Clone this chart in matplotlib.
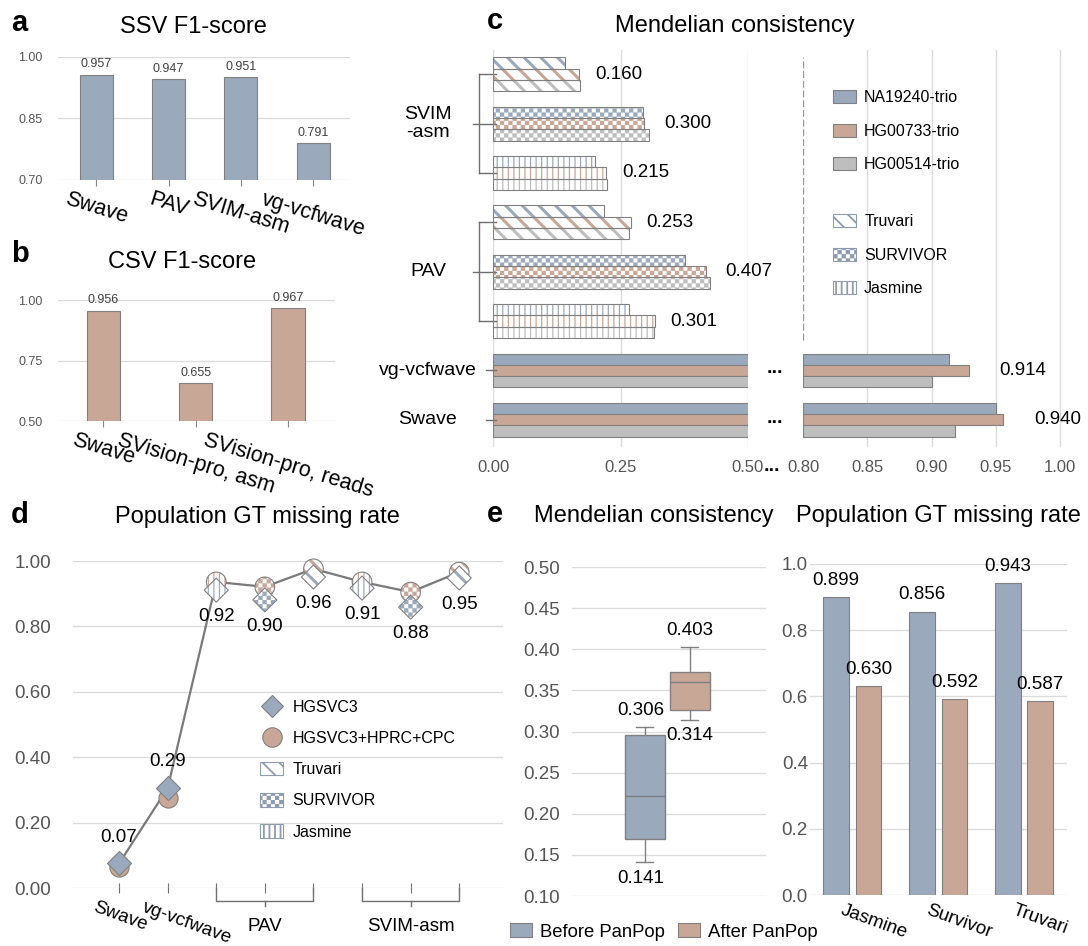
import warnings
import numpy as np
import matplotlib
matplotlib.use("Agg")
import matplotlib.pyplot as plt
import matplotlib.hatch as mhatch
import matplotlib.transforms as mtransforms
from matplotlib.path import Path
from matplotlib.patches import Patch
from matplotlib.lines import Line2D

warnings.filterwarnings("ignore")

plt.rcParams['font.family'] = ['Liberation Sans', 'DejaVu Sans']
plt.rcParams['hatch.linewidth'] = 1.3

# ---------------- data ----------------
ssv_tools = ['Swave', 'PAV', 'SVIM-asm', 'vg-vcfwave']
ssv_f1 = [0.957, 0.947, 0.951, 0.791]

csv_tools = ['Swave', 'SVision-pro, asm', 'SVision-pro, reads']
csv_f1 = [0.956, 0.655, 0.967]

trios = ['NA19240-trio', 'HG00733-trio', 'HG00514-trio']
mergers = ['Truvari', 'SURVIVOR', 'Jasmine']

# panel c rows, bottom to top
c_rows = ['Swave', 'vg-vcfwave', 'PAV', 'PAV', 'PAV', 'SVIM-asm', 'SVIM-asm', 'SVIM-asm']
c_merger = [None, None, 'Jasmine', 'SURVIVOR', 'Truvari', 'Jasmine', 'SURVIVOR', 'Truvari']
c_na19240 = [0.950, 0.914, 0.267, 0.376, 0.217, 0.200, 0.294, 0.141]
c_hg00733 = [0.956, 0.929, 0.318, 0.418, 0.271, 0.221, 0.296, 0.169]
c_hg00514 = [0.918, 0.900, 0.316, 0.426, 0.267, 0.224, 0.306, 0.170]
c_labels = ['0.940', '0.914', '0.301', '0.407', '0.253', '0.215', '0.300', '0.160']

d_methods = ['Swave', 'vg-vcfwave', 'PAV', 'PAV', 'PAV', 'SVIM-asm', 'SVIM-asm', 'SVIM-asm']
d_merger = [None, None, 'Jasmine', 'SURVIVOR', 'Truvari', 'Jasmine', 'SURVIVOR', 'Truvari']
d_hgsvc3 = [0.075, 0.305, 0.911, 0.881, 0.951, 0.917, 0.859, 0.948]
d_combined = [0.064, 0.275, 0.936, 0.921, 0.976, 0.936, 0.905, 0.966]
d_labels = ['0.07', '0.29', '0.92', '0.90', '0.96', '0.91', '0.88', '0.95']

panpop = ['Before PanPop', 'After PanPop']
# whislo, q1, med, q3, whishi
mc_before = [0.141, 0.169, 0.222, 0.296, 0.306]
mc_after = [0.314, 0.326, 0.360, 0.372, 0.403]

miss_tools = ['Jasmine', 'Survivor', 'Truvari']
miss_before = [0.899, 0.856, 0.943]
miss_after = [0.630, 0.592, 0.587]

# ---------------- style ----------------
BLUE = '#9ba9bd'
TAN = '#c9a797'
GREY = '#bebebe'
EDGE = '#808080'
GRID = '#dcdcdc'
TICK = '#555555'
HATCH_EDGE = '#8f9bb0'


class CheckerHatch(mhatch.HatchPatternBase):
    """Filled checkerboard squares, selected with the letter 'c'."""

    def __init__(self, hatch, density):
        n = hatch.count('c') * density
        self.n = n
        self.cells = [(i, j) for i in range(n) for j in range(n) if (i + j) % 2 == 0]
        self.num_vertices = len(self.cells) * 5

    def set_vertices_and_codes(self, vertices, codes):
        s = 1.0 / self.n
        sh = 0.2 * s
        verts = []
        for i, j in self.cells:
            x0, y0 = i * s + sh, j * s + sh
            x1, y1 = (i + 1) * s - sh, (j + 1) * s - sh
            verts += [(x0, y0), (x1, y0), (x1, y1), (x0, y1), (x0, y0)]
        vertices[:] = verts
        codes[:] = [Path.MOVETO, Path.LINETO, Path.LINETO, Path.LINETO,
                    Path.CLOSEPOLY] * len(self.cells)


mhatch._hatch_types.append(CheckerHatch)

hatch_of = {'Truvari': '\\\\', 'SURVIVOR': 'cccc', 'Jasmine': '|||'}
hatch_lw = {'Truvari': 2.2, 'SURVIVOR': 1.3, 'Jasmine': 0.9}


def set_hlw(artist, m):
    if hasattr(artist, 'set_hatch_linewidth'):
        artist.set_hatch_linewidth(hatch_lw[m])


W, H = 1088, 946
fig = plt.figure(figsize=(W / 100, H / 100), dpi=100)


def add_ax(left, top, right, bottom):
    return fig.add_axes([left / W, 1 - bottom / H, (right - left) / W, (bottom - top) / H])


def fig_text(x, y, s, **kw):
    fig.text(x / W, 1 - y / H, s, **kw)


def clean(ax):
    for sp in ax.spines.values():
        sp.set_visible(False)


# ---------------- panel a / b ----------------
def f1_panel(box, names, vals, color, ylim, yticks, width):
    ax = add_ax(*box)
    x = np.arange(len(names))
    ax.bar(x, vals, width=width, color=color, edgecolor=EDGE, linewidth=0.8, zorder=2)
    for xi, v in zip(x, vals):
        ax.annotate(f'{v:.3f}', (xi, v), xytext=(0, 3), textcoords='offset points',
                    ha='center', va='bottom', fontsize=9, color='#404040')
    ax.set_ylim(*ylim)
    ax.set_yticks(yticks)
    ax.set_yticklabels([f'{t:.2f}' for t in yticks])
    ax.set_xticks(x)
    ax.set_xticklabels(names, rotation=-17, ha='center', fontsize=15.5)
    ax.tick_params(axis='y', length=0, pad=11, labelsize=9, labelcolor=TICK)
    ax.tick_params(axis='x', direction='inout', length=9, color='#888888', pad=2)
    ax.grid(axis='y', color=GRID, lw=1, zorder=0)
    ax.set_axisbelow(True)
    clean(ax)
    return ax


axa = f1_panel((58, 57, 350, 180), ssv_tools, ssv_f1, BLUE, (0.70, 1.00), [0.70, 0.85, 1.00], 0.46)
axa.set_xlim(-0.53, 3.51)
axb = f1_panel((58, 300, 335, 421), csv_tools, csv_f1, TAN, (0.50, 1.00), [0.50, 0.75, 1.00], 0.36)
axb.set_xlim(-0.49, 2.51)

# ---------------- panel c ----------------
axl = add_ax(493, 50, 748, 447)
axr = add_ax(803, 50, 1078, 447)
rows = np.arange(len(c_rows))
bh = 0.229
trio_vals = [c_na19240, c_hg00733, c_hg00514]
trio_cols = [BLUE, TAN, GREY]

for k, (vals, col) in enumerate(zip(trio_vals, trio_cols)):
    ys = rows + (1 - k) * bh
    for yi, v, m in zip(ys, vals, c_merger):
        if m is None:
            axl.barh(yi, v, height=bh, color=col, edgecolor=EDGE, linewidth=0.8, zorder=2)
            axr.barh(yi, v - 0.8, left=0.8, height=bh, color=col, edgecolor=EDGE,
                     linewidth=0.8, zorder=2)
        else:
            bars = axl.barh(yi, v, height=bh, color='white', edgecolor=col, hatch=hatch_of[m],
                            linewidth=0, zorder=2)
            for p in bars:
                set_hlw(p, m)
            axl.barh(yi, v, height=bh, fill=False, edgecolor=EDGE, linewidth=0.8, zorder=3)

for i, (lab, m) in enumerate(zip(c_labels, c_merger)):
    vmax = max(c_na19240[i], c_hg00733[i], c_hg00514[i])
    ax = axl if vmax < 0.5 else axr
    ax.annotate(lab, (vmax, i), xytext=(11 if m else 22, 0), textcoords='offset points',
                ha='left', va='center', fontsize=13.5)

for ax, lim, ticks in [(axl, (0, 0.5), [0, 0.25, 0.5]),
                       (axr, (0.8, 1.014), [0.80, 0.85, 0.90, 0.95, 1.00])]:
    ax.set_xlim(*lim)
    ax.set_ylim(-0.55, 7.49)
    ax.set_xticks(ticks)
    ax.set_xticklabels([f'{t:.2f}' for t in ticks])
    ax.set_yticks([])
    ax.tick_params(axis='x', length=0, pad=9, labelsize=12, labelcolor=TICK)
    clean(ax)

axl.grid(axis='x', color=GRID, lw=1, zorder=0)
axl.set_axisbelow(True)
for t in [0.85, 0.90, 0.95, 1.00]:
    axr.axvline(t, color=GRID, lw=1, zorder=0)
axr.axvline(0.8, ymin=0.27, ymax=0.982, color='#999999', lw=1, ls=(0, (5, 2)), zorder=1)

# y labels with brackets
bt = mtransforms.blended_transform_factory(axl.transAxes, axl.transData)
line_kw = dict(color='#707070', lw=1, transform=bt, clip_on=False)
groups = {}
for i, name in enumerate(c_rows):
    groups.setdefault(name, []).append(i)
for name, idx in groups.items():
    mid = (idx[0] + idx[-1]) / 2
    label = 'SVIM\n-asm' if name == 'SVIM-asm' else name
    axl.text(-0.255, mid, label, transform=bt, ha='center', va='center', fontsize=14,
             linespacing=1.1)
    if len(idx) == 1:
        axl.plot([-0.026, 0.01], [mid, mid], **line_kw)
    else:
        axl.plot([-0.055, -0.055], [idx[0], idx[-1]], **line_kw)
        for r in idx:
            axl.plot([-0.055, 0.01], [r, r], **line_kw)
        axl.plot([-0.078, -0.055], [mid, mid], **line_kw)

# broken axis dots
for yy in (373, 423):
    fig_text(775, yy, '...', ha='center', va='baseline', fontsize=14, fontweight='bold')
fig_text(772, 471, '...', ha='center', va='baseline', fontsize=14, fontweight='bold')

leg_kw = dict(loc='upper left', bbox_transform=fig.transFigure, frameon=False, fontsize=11.5,
              handlelength=1.45, handleheight=0.9, handletextpad=0.5, labelspacing=1.15,
              borderpad=0, borderaxespad=0)
leg1 = axr.legend(handles=[Patch(fc=c, ec=EDGE, lw=0.8) for c in trio_cols], labels=trios,
                  bbox_to_anchor=(833 / W, 1 - 90 / H), **leg_kw)
axr.add_artist(leg1)
c_hatch_handles = [Patch(fc='white', ec=HATCH_EDGE, hatch=hatch_of[m], lw=0.8) for m in mergers]
for p, m in zip(c_hatch_handles, mergers):
    set_hlw(p, m)
axr.legend(handles=c_hatch_handles, labels=mergers, bbox_to_anchor=(833 / W, 1 - 214 / H),
           **leg_kw)

# ---------------- panel d ----------------
axd = add_ax(73, 561, 503, 888)
xd = np.arange(len(d_methods))
line_vals = np.maximum(d_hgsvc3, d_combined)
axd.plot(xd, line_vals, color='#7a7a7a', lw=1.6, zorder=3)


def hatched_marker(ax, x, y, marker, size, color, m, z):
    sc = ax.scatter(x, y, s=size, marker=marker, facecolors='white', edgecolors=color,
                    linewidths=0, hatch=hatch_of[m], zorder=z, clip_on=False)
    set_hlw(sc, m)
    ax.scatter(x, y, s=size, marker=marker, facecolors='none', edgecolors=EDGE,
               linewidths=0.8, zorder=z + 0.1, clip_on=False)


for i in xd:
    m = d_merger[i]
    if m is None:
        axd.scatter(i, d_combined[i], s=190, marker='o', facecolors=TAN, edgecolors=EDGE,
                    linewidths=0.8, zorder=4, clip_on=False)
        axd.scatter(i, d_hgsvc3[i], s=150, marker='D', facecolors=BLUE, edgecolors=EDGE,
                    linewidths=0.8, zorder=5, clip_on=False)
        axd.annotate(d_labels[i], (i, line_vals[i]), xytext=(0, 19), textcoords='offset points',
                     ha='center', va='center', fontsize=13.5)
    else:
        hatched_marker(axd, i, d_combined[i], 'o', 200, TAN, m, 4)
        hatched_marker(axd, i, d_hgsvc3[i], 'D', 150, BLUE, m, 5)
        axd.annotate(d_labels[i], (i, d_hgsvc3[i]), xytext=(0, -19), textcoords='offset points',
                     ha='center', va='center', fontsize=13.5)

axd.set_xlim(-0.947, 7.9)
axd.set_ylim(0, 1.0)
dticks = np.arange(0, 1.01, 0.2)
axd.set_yticks(dticks)
axd.set_yticklabels([f'{t:.2f}' for t in dticks])
axd.set_xticks(xd)
axd.set_xticklabels([])
axd.tick_params(axis='y', length=0, pad=16, labelsize=13.5, labelcolor=TICK)
axd.tick_params(axis='x', direction='inout', length=6.5, color='#707070')
axd.grid(axis='y', color=GRID, lw=1, zorder=0)
axd.set_axisbelow(True)
clean(axd)

bd = mtransforms.blended_transform_factory(axd.transData, axd.transAxes)
dgroups = {}
for i, name in enumerate(d_methods):
    dgroups.setdefault(name, []).append(i)
for name, idx in dgroups.items():
    if len(idx) == 1:
        axd.annotate(name, (idx[0], 0), xycoords=bd, xytext=(-16, -8), textcoords='offset points',
                     ha='left', va='top', rotation=-20, rotation_mode='anchor', fontsize=13.5)
    else:
        a, b = idx[0], idx[-1]
        mid = (a + b) / 2
        axd.plot([a, a, b, b], [0, -0.04, -0.04, 0], color='#707070', lw=1, transform=bd,
                 clip_on=False)
        axd.plot([mid, mid], [-0.04, -0.056], color='#707070', lw=1, transform=bd, clip_on=False)
        axd.text(mid, -0.119, name, transform=bd, ha='center', va='center', fontsize=13.5)

d_handles = [Line2D([], [], marker='D', ls='none', ms=11, mfc=BLUE, mec=EDGE, mew=0.8),
             Line2D([], [], marker='o', ls='none', ms=14, mfc=TAN, mec=EDGE, mew=0.8)]
d_hatch_handles = [Patch(fc='white', ec=HATCH_EDGE, hatch=hatch_of[m], lw=0.8) for m in mergers]
for p, m in zip(d_hatch_handles, mergers):
    set_hlw(p, m)
axd.legend(handles=d_handles + d_hatch_handles, labels=['HGSVC3', 'HGSVC3+HPRC+CPC'] + mergers,
           loc='upper left', bbox_to_anchor=(260 / W, 1 - 700 / H), bbox_transform=fig.transFigure,
           frameon=False, fontsize=11.5, handlelength=1.45, handleheight=0.9, handletextpad=0.6,
           labelspacing=1.0, borderpad=0, borderaxespad=0)

# ---------------- panel e (box plot) ----------------
axe = add_ax(572, 567, 766, 896)
stats = []
for name, s in zip(panpop, [mc_before, mc_after]):
    stats.append(dict(label=name, whislo=s[0], q1=s[1], med=s[2], q3=s[3], whishi=s[4],
                      fliers=[]))
bp = axe.bxp(stats, positions=[0, 1], widths=0.9, capwidths=0.38, patch_artist=True,
             showfliers=False, manage_ticks=False,
             boxprops=dict(edgecolor=EDGE, linewidth=1),
             medianprops=dict(color=EDGE, linewidth=1),
             whiskerprops=dict(color=EDGE, linewidth=1),
             capprops=dict(color=EDGE, linewidth=1))
for patch, col in zip(bp['boxes'], [BLUE, TAN]):
    patch.set_facecolor(col)
    patch.set_zorder(2)
for pos, s in enumerate([mc_before, mc_after]):
    axe.annotate(f'{s[4]:.3f}', (pos, s[4]), xytext=(-3 if pos == 0 else 0, 11.5),
                 textcoords='offset points', ha='center', va='center', fontsize=13.5)
    axe.annotate(f'{s[0]:.3f}', (pos, s[0]), xytext=(-3 if pos == 0 else 0, -11.5),
                 textcoords='offset points', ha='center', va='center', fontsize=13.5)
axe.set_xlim(-1.62, 2.69)
axe.set_ylim(0.10, 0.50)
eticks = np.arange(0.10, 0.501, 0.05)
axe.set_yticks(eticks)
axe.set_yticklabels([f'{t:.2f}' for t in eticks])
axe.set_xticks([])
axe.tick_params(axis='y', length=0, pad=8.5, labelsize=13.5, labelcolor=TICK)
axe.grid(axis='y', color=GRID, lw=1, zorder=0)
axe.set_axisbelow(True)
clean(axe)

# ---------------- panel e (missing rate) ----------------
axm = add_ax(810, 564, 1067, 895)
xm = np.arange(len(miss_tools))
for vals, col, off in [(miss_before, BLUE, -0.19), (miss_after, TAN, 0.19)]:
    axm.bar(xm + off, vals, width=0.30, color=col, edgecolor=EDGE, linewidth=0.8, zorder=2)
    for xi, v in zip(xm + off, vals):
        axm.annotate(f'{v:.3f}', (xi, v), xytext=(0, 12), textcoords='offset points',
                     ha='center', va='center', fontsize=13.5)
axm.set_xlim(-0.49, 2.5)
axm.set_ylim(0, 1.0)
mticks = np.arange(0, 1.01, 0.2)
axm.set_yticks(mticks)
axm.set_yticklabels([f'{t:.1f}' for t in mticks])
axm.set_xticks([])
axm.tick_params(axis='y', length=0, pad=1.5, labelsize=13.5, labelcolor=TICK)
axm.grid(axis='y', color=GRID, lw=1, zorder=0)
axm.set_axisbelow(True)
clean(axm)
bm = mtransforms.blended_transform_factory(axm.transData, axm.transAxes)
for xi, name in zip(xm, miss_tools):
    axm.annotate(name, (xi, 0), xycoords=bm, xytext=(-6, -5), textcoords='offset points',
                 ha='left', va='top', rotation=-20, rotation_mode='anchor', fontsize=13.5)

fig.legend(handles=[Patch(fc=BLUE, ec=EDGE, lw=0.8), Patch(fc=TAN, ec=EDGE, lw=0.8)],
           labels=panpop, loc='center left', bbox_to_anchor=(510 / W, 1 - 932 / H), ncol=2,
           frameon=False, fontsize=13.3, handlelength=1.2, handleheight=0.75,
           handletextpad=0.43, columnspacing=0.7, borderpad=0, borderaxespad=0)

# ---------------- titles and panel letters ----------------
title_kw = dict(ha='center', va='baseline', fontsize=17)
fig_text(193, 33, 'SSV F1-score', **title_kw)
fig_text(182, 268, 'CSV F1-score', **title_kw)
fig_text(735, 32, 'Mendelian consistency', **title_kw)
fig_text(257, 523, 'Population GT missing rate', **title_kw)
fig_text(654, 522, 'Mendelian consistency', **title_kw)
fig_text(938, 522, 'Population GT missing rate', **title_kw)

letter_kw = dict(ha='left', va='baseline', fontsize=21, fontweight='bold')
fig_text(11, 31, 'a', **letter_kw)
fig_text(11, 262, 'b', **letter_kw)
fig_text(487, 29, 'c', **letter_kw)
fig_text(11, 523, 'd', **letter_kw)
fig_text(487, 522, 'e', **letter_kw)

fig.savefig('out.png', dpi=100)
